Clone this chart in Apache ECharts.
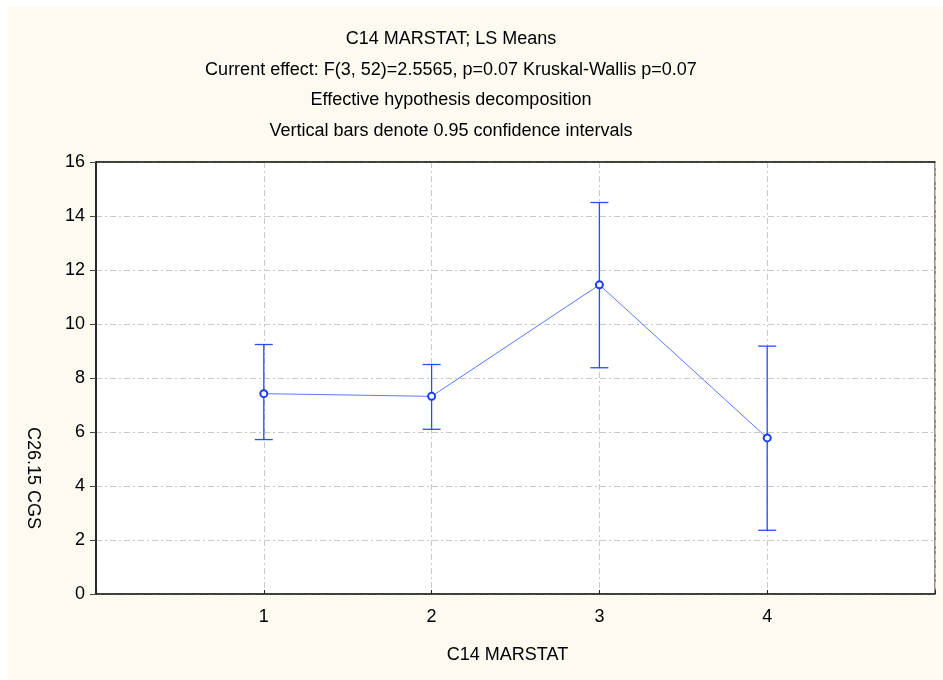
<!DOCTYPE html>
<html><head><meta charset="utf-8">
<script src="https://cdn.jsdelivr.net/npm/echarts@6/dist/echarts.min.js"></script>
<style>html,body{margin:0;padding:0;background:#fff}#c{width:943px;height:680px}</style>
</head><body><div id="c"></div>
<script>
const categories = [1, 2, 3, 4];
const means = [7.42, 7.32, 11.45, 5.78];
const lower = [5.72, 6.1, 8.38, 2.36];
const upper = [9.24, 8.5, 14.5, 9.18];
const yTicks = [0, 2, 4, 6, 8, 10, 12, 14, 16];
const titleLines = [
  'C14 MARSTAT; LS Means',
  'Current effect: F(3, 52)=2.5565, p=0.07 Kruskal-Wallis p=0.07',
  'Effective hypothesis decomposition',
  'Vertical bars denote 0.95 confidence intervals'
];
const xName = 'C14 MARSTAT';
const yName = 'C26.15 CGS';

const font = 'Liberation Sans, Arial, sans-serif';
const chart = echarts.init(document.getElementById('c'));
const gridLine = {show: true, lineStyle: {color: '#c8c8c8', type: [6, 3, 2, 3], width: 1}};
chart.setOption({
  backgroundColor: '#ffffff',
  animation: false,
  graphic: [{
    type: 'rect', left: 8, top: 7, shape: {width: 935, height: 673}, z: -10,
    style: {fill: '#fdfaf2'}
  }, {
    type: 'text', x: 33, y: 478, rotation: -Math.PI / 2,
    style: {text: yName, fontFamily: font, fontSize: 18, fill: '#000', align: 'center', verticalAlign: 'middle'}
  }],
  title: titleLines.map((t, i) => ({
    text: t, left: 446, textAlign: 'center', top: 25 + i * 30.7,
    textStyle: {fontFamily: font, fontSize: 18, fontWeight: 'normal', color: '#000'}
  })),
  grid: {left: 96, right: 8, top: 162, bottom: 86, show: true, backgroundColor: '#fff', borderColor: '#222', borderWidth: 1},
  xAxis: [{
    type: 'value', min: 0, max: 5, interval: 1,
    name: xName, nameLocation: 'middle', nameGap: 52,
    nameTextStyle: {fontFamily: font, fontSize: 18, color: '#000', padding: [0, 16, 0, 0]},
    axisLine: {show: true, onZero: false, lineStyle: {color: '#222', width: 1.5}},
    axisTick: {show: true, inside: true, length: 4, lineStyle: {color: '#222'}},
    axisLabel: {fontFamily: font, fontSize: 18, color: '#000', margin: 14,
      formatter: v => categories.includes(v) ? String(v) : ''},
    splitLine: gridLine
  }, {
    type: 'value', min: 0, max: 5, interval: 1, position: 'top',
    axisLine: {show: true, onZero: false, lineStyle: {color: '#222', width: 1.5}},
    axisTick: {show: false}, axisLabel: {show: false}, splitLine: {show: false}
  }],
  yAxis: [{
    type: 'value', min: 0, max: 16, interval: 2,
    axisLine: {show: true, lineStyle: {color: '#222', width: 1.5}},
    axisTick: {show: false},
    axisLabel: {fontFamily: font, fontSize: 18, color: '#000', margin: 11},
    splitLine: gridLine
  }, {
    type: 'value', min: 0, max: 16, interval: 2, position: 'right',
    axisLine: {show: true, lineStyle: {color: '#222', width: 1.5}},
    axisTick: {show: true, inside: true, length: 6, lineStyle: {color: '#444'}},
    axisLabel: {show: false}, splitLine: {show: false}
  }],
  series: [{
    type: 'custom',
    renderItem: (params, api) => {
      const x = api.value(0);
      const top = api.coord([x, api.value(2)]);
      const bot = api.coord([x, api.value(1)]);
      const hw = 9;
      const st = {stroke: '#2a4bff', lineWidth: 1.3};
      return {type: 'group', children: [
        {type: 'line', shape: {x1: top[0], y1: top[1], x2: bot[0], y2: bot[1]}, style: st},
        {type: 'line', shape: {x1: top[0] - hw, y1: top[1], x2: top[0] + hw, y2: top[1]}, style: st},
        {type: 'line', shape: {x1: bot[0] - hw, y1: bot[1], x2: bot[0] + hw, y2: bot[1]}, style: st}
      ]};
    },
    data: categories.map((c, i) => [c, lower[i], upper[i]]),
    z: 2
  }, {
    type: 'line',
    data: categories.map((c, i) => [c, means[i]]),
    symbol: 'emptyCircle', symbolSize: 7,
    lineStyle: {color: '#5a78ff', width: 1},
    itemStyle: {color: '#1a3cff', borderColor: '#1a3cff', borderWidth: 1.8},
    z: 3
  }]
});
</script></body></html>
